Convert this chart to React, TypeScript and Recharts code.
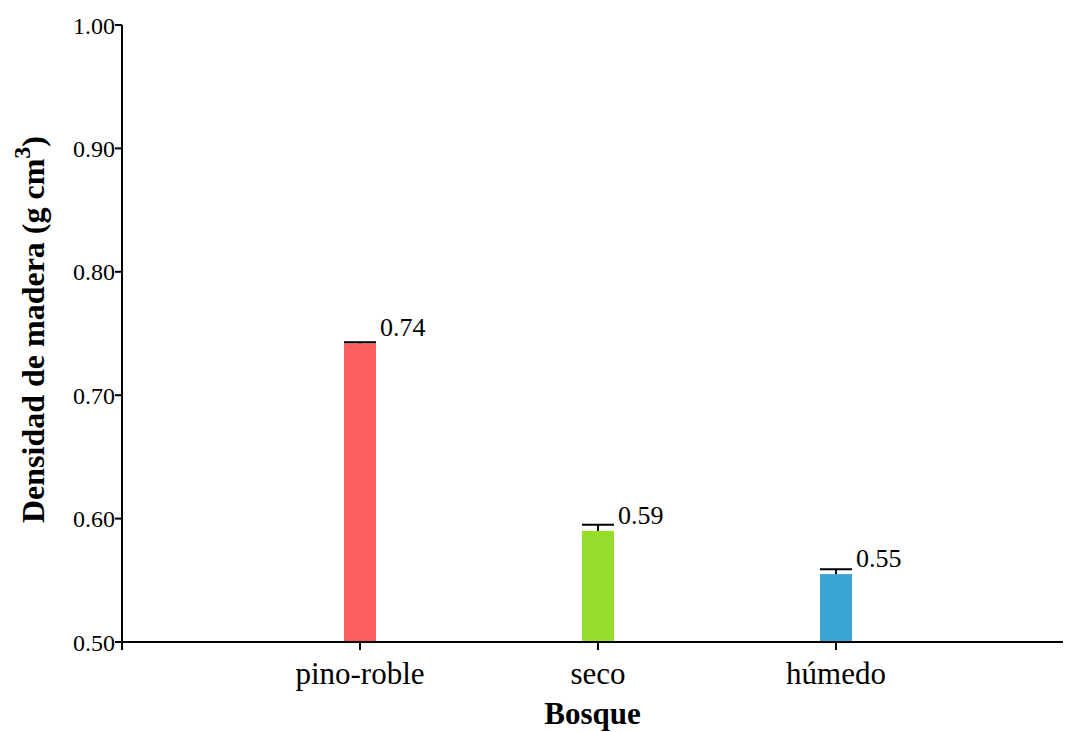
import React from 'react';
import { BarChart, Bar, XAxis, YAxis, LabelList, Cell } from 'recharts';

const categories = ['pino-roble', 'seco', 'húmedo'];
const densityValues = [0.742, 0.59, 0.555];
const densityErrors = [0.001, 0.005, 0.004];
const valueLabels = ['0.74', '0.59', '0.55'];
const barColors = ['#FF5E5E', '#95DD2B', '#3AA5D2'];
const yTicks = [0.5, 0.6, 0.7, 0.8, 0.9, 1.0];
const xTicks = [0, 1, 2, 3];
const Y_MIN = 0.5;

const data = categories.map((c, i) => ({
  pos: i + 1,
  name: c,
  value: densityValues[i],
  err: densityErrors[i],
  label: valueLabels[i],
}));

const FONT = 'Liberation Serif';

const YTitle = (props: any) => {
  const { viewBox } = props;
  const cx = 33;
  const cy = viewBox.y + viewBox.height / 2 - 4;
  return (
    <text
      x={cx}
      y={cy}
      transform={`rotate(-90, ${cx}, ${cy})`}
      textAnchor="middle"
      dominantBaseline="central"
      fontFamily={FONT}
      fontWeight="bold"
      fontSize={32}
      fill="#000"
    >
      Densidad de madera (g cm
      <tspan fontSize={24} dy={-11}>3</tspan>
      <tspan dy={11}>)</tspan>
    </text>
  );
};

const BarWithError = (props: any) => {
  const { x, y, width, height, fill, payload } = props;
  const pxPerUnit = height / (payload.value - Y_MIN);
  const errPx = payload.err * pxPerUnit;
  const cx = x + width / 2;
  return (
    <g>
      <rect x={x} y={y} width={width} height={height} fill={fill} />
      <line x1={cx} x2={cx} y1={y} y2={y - errPx} stroke="#000" strokeWidth={2} />
      <line x1={x} x2={x + width} y1={y - errPx} y2={y - errPx} stroke="#000" strokeWidth={2} />
    </g>
  );
};

const ValueLabel = (props: any) => {
  const { x, y, width, index } = props;
  return (
    <text x={x + width + 4} y={y - 7} fontFamily={FONT} fontSize={26} fill="#000">
      {valueLabels[index]}
    </text>
  );
};

export default function App() {
  return (
    <div style={{ position: 'absolute', left: 0, top: 0, width: 1065, height: 732, background: '#fff' }}>
      <BarChart
        width={1065}
        height={732}
        data={data}
        margin={{ top: 25, right: 2, left: 0, bottom: 0 }}
        barCategoryGap={0}
      >
        <XAxis
          dataKey="pos"
          type="number"
          domain={[0, 3.954]}
          ticks={xTicks}
          allowDataOverflow
          height={90}
          tickFormatter={(v: number) => (v >= 1 ? categories[v - 1] : '')}
          tick={{ fontFamily: FONT, fontSize: 31, fill: '#000' }}
          tickLine={{ stroke: '#000', strokeWidth: 2 }}
          axisLine={{ stroke: '#000', strokeWidth: 2 }}
          tickSize={8}
          tickMargin={12}
          label={{ value: 'Bosque', position: 'insideBottom', offset: 8, fontFamily: FONT, fontSize: 31, fontWeight: 'bold', fill: '#000' }}
        />
        <YAxis
          width={122}
          domain={[0.5, 1.0]}
          ticks={yTicks}
          allowDataOverflow
          tickFormatter={(v: number) => v.toFixed(2)}
          tick={{ fontFamily: FONT, fontSize: 24, fill: '#000' }}
          tickLine={{ stroke: '#000', strokeWidth: 2 }}
          axisLine={{ stroke: '#000', strokeWidth: 2 }}
          tickSize={7}
          tickMargin={0}
          label={<YTitle />}
        />
        <Bar dataKey="value" barSize={32} isAnimationActive={false} shape={<BarWithError />}>
          {data.map((d, i) => (
            <Cell key={d.name} fill={barColors[i]} />
          ))}
          <LabelList dataKey="label" content={<ValueLabel />} />
        </Bar>
      </BarChart>
    </div>
  );
}
